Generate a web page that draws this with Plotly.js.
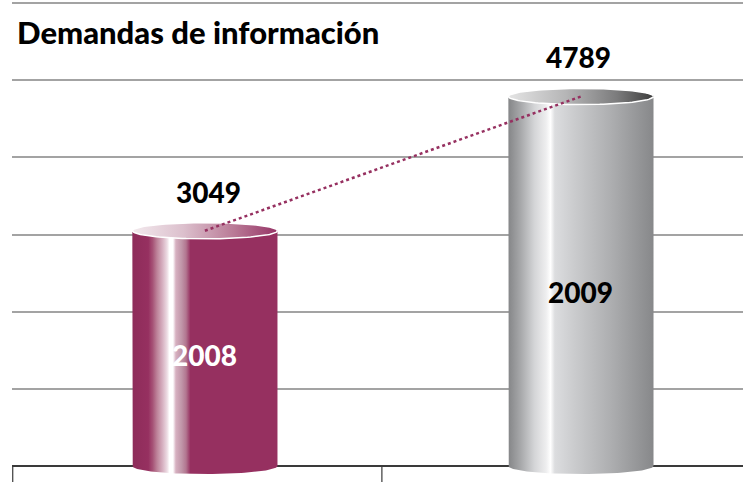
<!DOCTYPE html>
<html>
<head>
<meta charset="utf-8">
<script src="https://cdn.plot.ly/plotly-3.0.1.min.js"></script>
<style>
  html, body { margin: 0; padding: 0; background: #fff; }
  #plotArea { width: 743px; height: 482px; }
</style>
</head>
<body>
<div id="plotArea"></div>
<script>
// data
var years = ["2008", "2009"];
var demandas = [3049, 4789];

// cylinder look
var halfW = 0.193;   // half width, x units
var halfH = 105;     // ellipse half height, y units
var bodyScales = [
    [[0, "#8e2c5a"], [0.11, "#963060"], [0.14, "#a65276"], [0.17, "#bd8299"], [0.21, "#d8b3c3"],
     [0.24, "#eddde4"], [0.255, "#ffffff"], [0.28, "#ffffff"], [0.30, "#d6b0c0"], [0.34, "#c095a8"],
     [0.37, "#b27690"], [0.40, "#963060"], [1, "#963060"]],
    [[0, "#858688"], [0.08, "#a5a6a8"], [0.18, "#d4d5d7"], [0.26, "#eeeeef"], [0.29, "#ffffff"],
     [0.32, "#dcdddf"], [0.45, "#cbccce"], [0.7, "#aeafb1"], [1, "#87888a"]]
];
var capScales = [
    [[0, "#f3eaee"], [0.35, "#dcc0cd"], [0.7, "#b97a96"], [1, "#963466"]],
    [[0, "#e4e4e4"], [0.4, "#b5b5b6"], [0.75, "#7b7b7c"], [1, "#3c3c3c"]]
];
var labelColors = ["#ffffff", "#000000"];

var traces = [];
years.forEach(function(yr, i) {
    var v = demandas[i];
    var bx = [], by = [];
    var n = 60, k, t;
    bx.push(i - halfW); by.push(v);
    for (k = 0; k <= n; k++) {          // bottom arc, left to right
        t = Math.PI + Math.PI * k / n;
        bx.push(i + halfW * Math.cos(t)); by.push(halfH * Math.sin(t));
    }
    for (k = 0; k <= n; k++) {          // front of top, right to left
        t = -Math.PI * k / n;
        bx.push(i + halfW * Math.cos(t)); by.push(v + halfH * Math.sin(t));
    }
    traces.push({
        x: bx, y: by, type: "scatter", mode: "lines", fill: "toself",
        line: {width: 0, color: "rgba(0,0,0,0)"},
        fillgradient: {type: "horizontal", colorscale: bodyScales[i]},
        hoverinfo: "skip", showlegend: false
    });
    var cx = [], cy = [];
    for (k = 0; k <= 2 * n; k++) {
        t = 2 * Math.PI * k / (2 * n);
        cx.push(i + halfW * Math.cos(t)); cy.push(v + halfH * Math.sin(t));
    }
    traces.push({
        x: cx, y: cy, type: "scatter", mode: "lines", fill: "toself",
        line: {width: 1.5, color: "#ffffff"},
        fillgradient: {type: "horizontal", colorscale: capScales[i]},
        hoverinfo: "skip", showlegend: false
    });
});

// dotted link between the tops
traces.push({
    x: [0, 1], y: demandas, type: "scatter", mode: "lines",
    line: {color: "#963060", width: 2.5, dash: "dot"},
    hoverinfo: "skip", showlegend: false
});

var labelFont = {family: "Lato, 'DejaVu Sans', sans-serif", size: 28, weight: 900};
var annotations = [];
years.forEach(function(yr, i) {
    annotations.push({
        x: i, y: demandas[i], xref: "x", yref: "y", text: String(demandas[i]),
        showarrow: false, yanchor: "middle", yshift: 39, xshift: i === 0 ? 4 : -2,
        font: Object.assign({color: "#000000"}, labelFont)
    });
    annotations.push({
        x: i, y: demandas[i] * 0.47, xref: "x", yref: "y", text: yr,
        showarrow: false, yanchor: "middle",
        font: Object.assign({color: labelColors[i]}, labelFont)
    });
});

var layout = {
    width: 743, height: 482,
    margin: {l: 12, r: 0, t: 2, b: 0},
    paper_bgcolor: "#ffffff", plot_bgcolor: "#ffffff",
    title: {
        text: "Demandas de información",
        font: {family: "Lato, 'DejaVu Sans', sans-serif", size: 31, weight: 900, color: "#000000"},
        x: 17 / 743, xanchor: "left", xref: "container",
        y: 1 - 33 / 482, yanchor: "middle", yref: "container"
    },
    xaxis: {range: [-0.513, 1.431], showgrid: false, zeroline: false,
            showticklabels: false, ticks: "", fixedrange: true},
    yaxis: {range: [-207, 6013], dtick: 1000, tick0: 0, showticklabels: false, ticks: "",
            showgrid: true, gridcolor: "#a3a3a3", gridwidth: 2,
            zeroline: true, zerolinecolor: "#3a3a3a", zerolinewidth: 1.5,
            fixedrange: true},
    shapes: [
        // top grid line at the edge of the plot
        {type: "line", xref: "paper", yref: "y", x0: 0, x1: 1, y0: 6000, y1: 6000,
         line: {color: "#a3a3a3", width: 2}, layer: "below"},
        {type: "line", xref: "paper", yref: "y", x0: 0.001, x1: 0.001, y0: 0, y1: -207,
         line: {color: "#3a3a3a", width: 1.2}, layer: "below"},
        {type: "line", xref: "paper", yref: "y", x0: 0.506, x1: 0.506, y0: 0, y1: -207,
         line: {color: "#3a3a3a", width: 1.2}, layer: "below"}
    ],
    annotations: annotations,
    hovermode: false
};

Plotly.newPlot("plotArea", traces, layout, {displayModeBar: false, staticPlot: true});
</script>
</body>
</html>
